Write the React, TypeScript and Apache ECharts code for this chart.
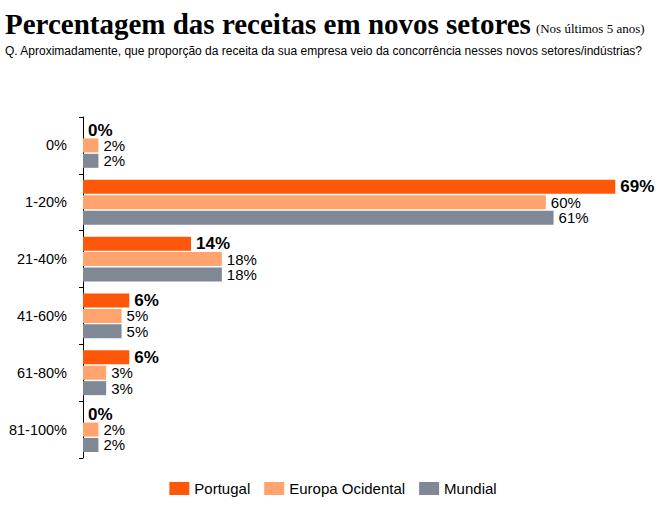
import React, { useEffect, useRef } from "react";
import * as echarts from "echarts";

const categories = ["0%", "1-20%", "21-40%", "41-60%", "61-80%", "81-100%"];
const seriesNames = ["Portugal", "Europa Ocidental", "Mundial"];
const portugal = [0, 69, 14, 6, 6, 0];
const europa = [2, 60, 18, 5, 3, 2];
const mundial = [2, 61, 18, 5, 3, 2];
const colors = ["#FF5709", "#FFA46E", "#7F8895"];

export default function App() {
  const ref = useRef<HTMLDivElement>(null);
  useEffect(() => {
    const chart = echarts.init(ref.current!, null, { renderer: "svg" });
    const sans = "Liberation Sans, Arial, sans-serif";
    const values = [portugal, europa, mundial];
    chart.setOption({
      animation: false,
      textStyle: { fontFamily: sans },
      title: {
        left: 0,
        top: 4,
        text: "{a|Percentagem das receitas em novos setores} {b|(Nos últimos 5 anos)}",
        textStyle: {
          rich: {
            a: { fontFamily: "Liberation Serif, serif", fontWeight: "bold", fontSize: 29, color: "#000" },
            b: { fontFamily: "Liberation Serif, serif", fontWeight: "normal", fontSize: 13, color: "#000", verticalAlign: "bottom", padding: [0, 0, 3, 0] },
          },
        },
      },
      graphic: [
        {
          type: "text",
          left: 5,
          top: 45,
          style: {
            text: "Q. Aproximadamente, que proporção da receita da sua empresa veio da concorrência nesses novos setores/indústrias?",
            font: "12px Liberation Sans, Arial, sans-serif",
            fill: "#000",
          },
        },
      ],
      legend: {
        bottom: 13,
        left: "center",
        itemWidth: 20,
        itemHeight: 13,
        itemGap: 14,
        textStyle: { fontSize: 15, color: "#000", fontFamily: sans },
        data: seriesNames,
        icon: "rect",
      },
      grid: { left: 83, top: 117, width: 540, height: 341, containLabel: false },
      xAxis: { type: "value", min: 0, max: 70, show: false },
      yAxis: {
        type: "category",
        inverse: true,
        data: categories,
        axisLine: { show: true, lineStyle: { color: "#000", width: 1 } },
        axisTick: { show: true, length: 4, lineStyle: { color: "#000" } },
        axisLabel: { fontSize: 14.5, color: "#000", margin: 16, fontFamily: sans },
      },
      series: seriesNames.map((name, i) => ({
        name,
        type: "bar",
        data: values[i],
        barWidth: 14,
        barGap: "10%",
        itemStyle: { color: colors[i] },
        label: {
          show: true,
          position: "right",
          distance: 5,
          formatter: "{c}%",
          color: "#000",
          fontFamily: sans,
          fontSize: i === 0 ? 17 : 15,
          fontWeight: i === 0 ? "bold" : "normal",
        },
      })),
    });
    return () => chart.dispose();
  }, []);
  return <div ref={ref} style={{ position: "absolute", left: 0, top: 0, width: 666, height: 514 }} />;
}
